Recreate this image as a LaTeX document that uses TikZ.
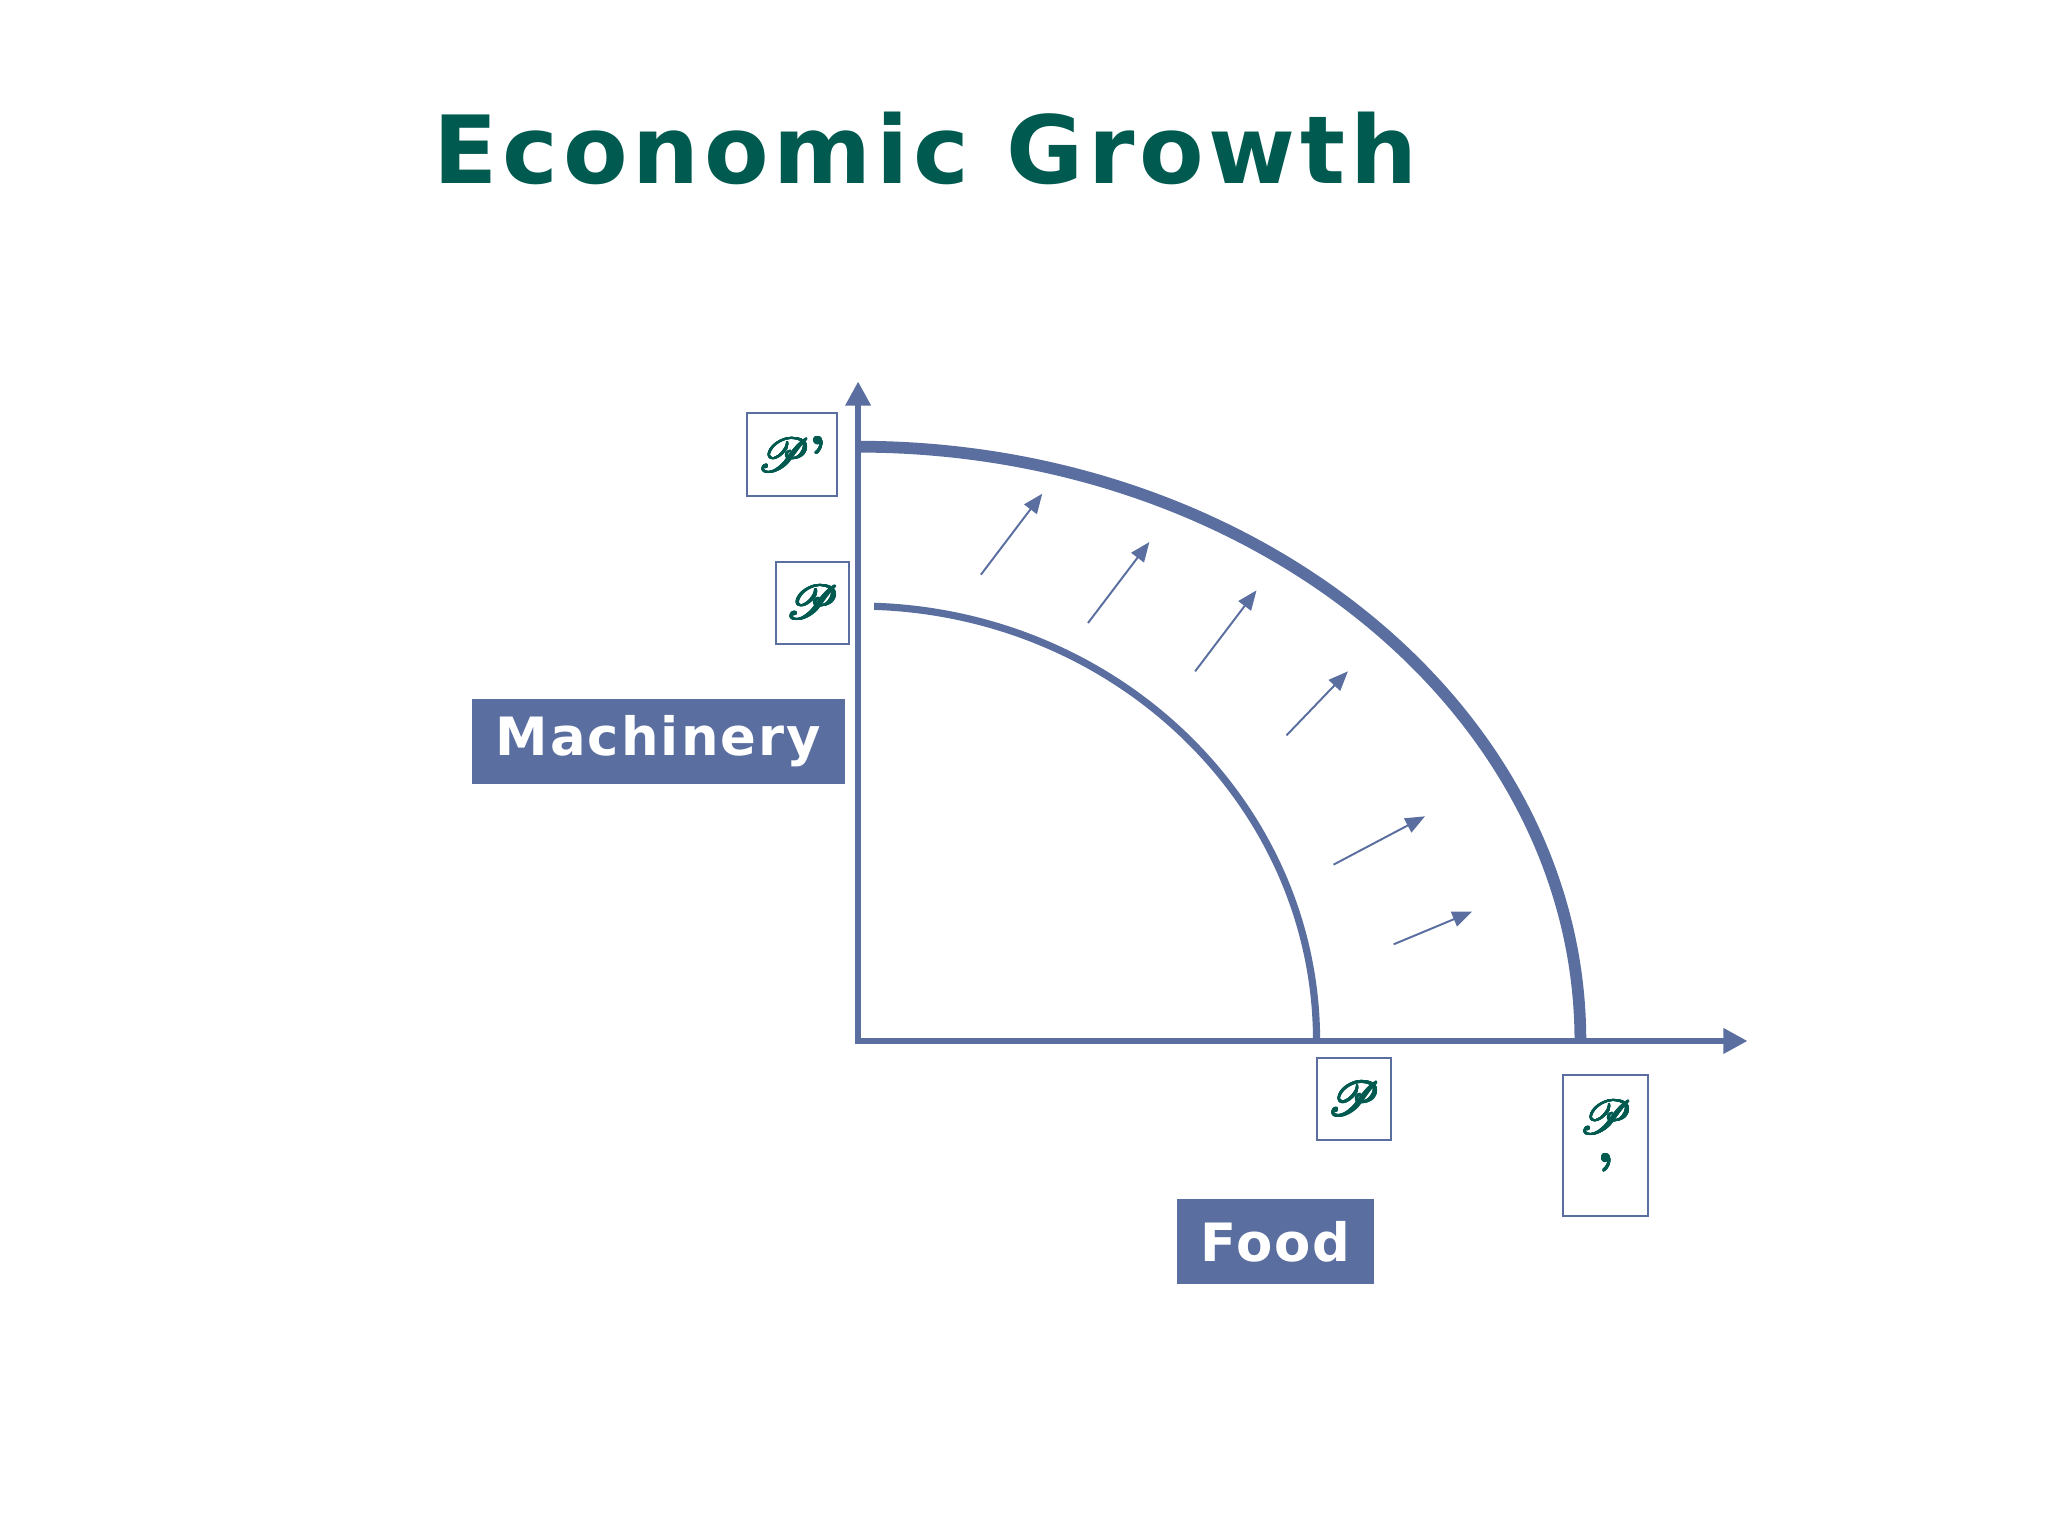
\documentclass[tikz,border=0pt]{standalone}
\usepackage{fontspec}
\usepackage{mathrsfs}
\usepackage[copies]{contour}
\usetikzlibrary{arrows.meta}
\newfontfamily\headfont{DejaVu Sans}
\definecolor{ppfblue}{RGB}{90,110,160}
\definecolor{titleteal}{RGB}{0,90,80}
\contourlength{0.3pt}
\newcommand{\pfont}[1]{\contour{titleteal}{#1}}

\tikzset{
  axis/.style={ppfblue, line width=0.1cm, {Triangle[length=0.37cm,width=0.37cm]}-{Triangle[length=0.37cm,width=0.37cm]}},
  ppf/.style={ppfblue},
  growarrow/.style={ppfblue, line width=0.03cm, -{Triangle[length=0.3cm,width=0.24cm]}},
  labelbox/.style={draw=ppfblue, line width=0.03cm, text=titleteal, inner sep=0pt,
    font=\fontsize{22}{26}\selectfont},
  axisname/.style={fill=ppfblue, text=white, inner sep=0pt,
    font=\headfont\bfseries\fontsize{23}{26}\selectfont\addfontfeature{LetterSpace=4}},
  title/.style={text=titleteal, inner sep=0pt,
    font=\headfont\bfseries\fontsize{41}{46}\selectfont\addfontfeature{LetterSpace=5}}
}

\begin{document}
\begin{tikzpicture}[x=0.02cm,y=0.02cm]
\useasboundingbox (-657,-379) rectangle (911,797);
\node[title] (title) at (51.5,683) {Economic Growth};

% axes
\coordinate (origin) at (0,0);
\coordinate (ytip) at (0,505);
\coordinate (xtip) at (681,0);
\draw[axis] (ytip) -- (origin) -- (xtip);

% production possibilities curves
\draw[ppf, line width=0.18cm] (0,455) arc[start angle=90, end angle=0, x radius=553, y radius=455];
\draw[ppf, line width=0.11cm] (88:351 and 333) arc[start angle=88, end angle=0, x radius=351, y radius=333];

% outward shift
\foreach \sx/\sy/\ex/\ey in {94/357/141/419, 176/320/223/382, 258/283/305/345,
                             328/234/375/283, 364/135/434/172, 410/74/470/99}
  \draw[growarrow] (\sx,\sy) -- (\ex,\ey);

% labels
\node[labelbox, minimum width=1.38cm, minimum height=1.28cm] (pPrimeY) at (-50.5,449) {\pfont{$\mathscr{P}$\textbf{’}}};
\node[labelbox, minimum width=1.12cm, minimum height=1.26cm] (pY) at (-35,335.5) {\pfont{$\mathscr{P}$}};
\node[axisname, minimum width=5.72cm, minimum height=1.3cm] (machinery) at (-153,229.5) {Machinery};
\node[labelbox, minimum width=1.14cm, minimum height=1.26cm] (pX) at (379.5,-44.5) {\pfont{$\mathscr{P}$}};
\node[labelbox, minimum width=1.3cm, minimum height=2.16cm, align=center] (pPrimeX) at (572.5,-80) {\pfont{$\mathscr{P}$}\\[-2pt]\pfont{\textbf{’}}};
\node[axisname, minimum width=3.02cm, minimum height=1.3cm] (food) at (319.5,-153.5) {Food};
\end{tikzpicture}
\end{document}
